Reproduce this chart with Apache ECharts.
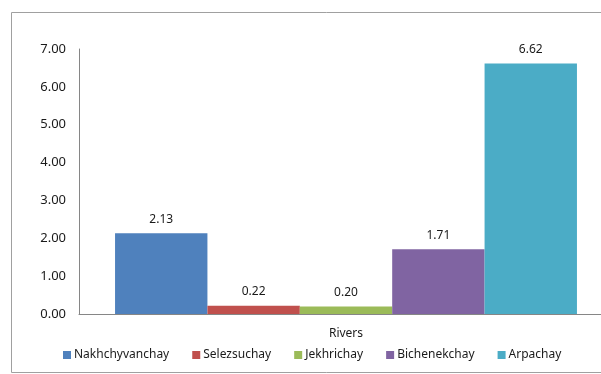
<!DOCTYPE html>
<html>
  <head>
    <meta charset="UTF-8" />
    <title>Rivers</title>
    <style>
      html, body { margin: 0; padding: 0; background: #fff; overflow: hidden; }
      #chart { width: 640px; height: 374px; }
    </style>
    <script src="https://cdn.jsdelivr.net/npm/echarts@6/dist/echarts.min.js"></script>
  </head>
  <body>
    <div id="chart"></div>
    <script>
      const categories = ["Rivers"];
      const rivers = ["Nakhchyvanchay", "Selezsuchay", "Jekhrichay", "Bichenekchay", "Arpachay"];
      const values = [2.13, 0.22, 0.2, 1.71, 6.62];
      const colors = ["#4F81BD", "#C0504D", "#9BBB59", "#8064A2", "#4BACC6"];
      const yTicks = { min: 0, max: 7, interval: 1 };

      const chart = echarts.init(document.getElementById("chart"));
      const font = "Noto Sans";

      const series = rivers.map((name, i) => ({
        name: name,
        type: "bar",
        data: [values[i]],
        barGap: "0%",
        barCategoryGap: "13.5%",
        itemStyle: { color: colors[i] },
        label: {
          show: true,
          position: "top",
          distance: 8,
          color: "#1a1a1a",
          fontFamily: font,
          fontSize: 12,
          formatter: (p) => p.value.toFixed(2)
        }
      }));

      chart.setOption({
        animation: false,
        graphic: [
          {
            type: "rect",
            shape: { x: 11.5, y: 12.5, width: 700, height: 360 },
            style: { fill: "none", stroke: "#a0a0a0", lineWidth: 1 },
            silent: true
          }
        ],
        grid: { left: 79, top: 49, right: 27, bottom: 60, containLabel: false },
        legend: {
          left: 58,
          top: 344,
          itemWidth: 8,
          itemHeight: 8,
          itemGap: 23,
          icon: "rect",
          textStyle: { fontFamily: font, fontSize: 12, color: "#1a1a1a", padding: [0, 0, 0, -2] },
          data: rivers
        },
        xAxis: {
          type: "category",
          data: categories,
          axisLine: { lineStyle: { color: "#868686" } },
          axisTick: { show: false },
          axisLabel: { fontFamily: font, fontSize: 12, color: "#1a1a1a", margin: 14 }
        },
        yAxis: {
          type: "value",
          min: yTicks.min,
          max: yTicks.max,
          interval: yTicks.interval,
          axisLine: { show: true, lineStyle: { color: "#868686" } },
          axisTick: { show: false },
          splitLine: { show: false },
          axisLabel: {
            fontFamily: font,
            fontSize: 13,
            color: "#1a1a1a",
            margin: 13,
            formatter: (v) => v.toFixed(2)
          }
        },
        series: series
      });
    </script>
  </body>
</html>
